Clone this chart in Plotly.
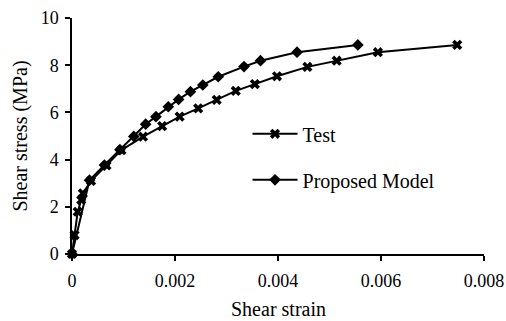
import plotly.graph_objects as go

# Data
test_strain = [0, 0.00005, 0.00011, 0.00018, 0.00021, 0.00037, 0.00067, 0.00096, 0.00138,
               0.00175, 0.00209, 0.00245, 0.00281, 0.00318, 0.00355, 0.00398, 0.00457,
               0.00514, 0.00594, 0.00748]
test_stress = [0, 0.8, 1.79, 2.29, 2.57, 3.1, 3.75, 4.4, 4.97,
               5.42, 5.82, 6.17, 6.53, 6.91, 7.2, 7.53, 7.93,
               8.19, 8.55, 8.86]

model_strain = [0, 0.00034, 0.00063, 0.00093, 0.0012, 0.00143, 0.00163, 0.00187, 0.00207,
                0.0023, 0.00254, 0.00284, 0.00334, 0.00366, 0.00437, 0.00555]
model_stress = [0, 3.13, 3.77, 4.42, 4.98, 5.5, 5.82, 6.24, 6.55,
                6.88, 7.16, 7.51, 7.94, 8.19, 8.55, 8.86]

x_tickvals = [0, 0.002, 0.004, 0.006, 0.008]
x_ticktext = ["0", "0.002", "0.004", "0.006", "0.008"]
y_tickvals = [0, 2, 4, 6, 8, 10]
y_ticktext = ["0", "2", "4", "6", "8", "10"]

FONT = "Liberation Serif"

fig = go.Figure()
fig.add_trace(go.Scatter(
    x=test_strain, y=test_stress, name="Test", mode="lines+markers",
    line=dict(color="black", width=2),
    marker=dict(symbol="x", size=9, color="black"),
    cliponaxis=False, legendgroup="a",
))
fig.add_trace(go.Scatter(
    x=model_strain, y=model_stress, name="Proposed Model", mode="lines+markers",
    line=dict(color="black", width=2),
    marker=dict(symbol="diamond", size=9, color="black"),
    cliponaxis=False, legendgroup="b",
))

fig.update_layout(
    width=506, height=321,
    margin=dict(l=72, r=22, t=18, b=67),
    paper_bgcolor="white", plot_bgcolor="white",
    font=dict(family=FONT, color="black", size=18),
    showlegend=True,
    legend=dict(
        x=0.426, y=0.592, xanchor="left", yanchor="top",
        font=dict(family=FONT, size=20, color="black"),
        bgcolor="rgba(0,0,0,0)", tracegroupgap=17, itemwidth=45,
    ),
    xaxis=dict(
        range=[0, 0.008], tickvals=x_tickvals, ticktext=x_ticktext,
        showgrid=False, zeroline=False, showline=True, linecolor="black", linewidth=1.5,
        ticks="outside", ticklen=5, tickcolor="black", tickwidth=1.5,
        ticklabelstandoff=5, automargin=False,
        tickfont=dict(family=FONT, size=18, color="black"),
    ),
    yaxis=dict(
        range=[0, 10], tickvals=y_tickvals, ticktext=y_ticktext,
        showgrid=False, zeroline=False, showline=True, linecolor="black", linewidth=1.5,
        ticks="outside", ticklen=5, tickcolor="black", tickwidth=1.5,
        ticklabelstandoff=3, automargin=False,
        tickfont=dict(family=FONT, size=18, color="black"),
        title=dict(text="Shear stress (MPa)", font=dict(family=FONT, size=20, color="black"), standoff=8),
    ),
    annotations=[dict(
        text="Shear strain", xref="paper", yref="paper", x=0.5, y=-0.233,
        xanchor="center", yanchor="middle", showarrow=False,
        font=dict(family=FONT, size=20, color="black"),
    )],
)

fig.write_html("out.html")
